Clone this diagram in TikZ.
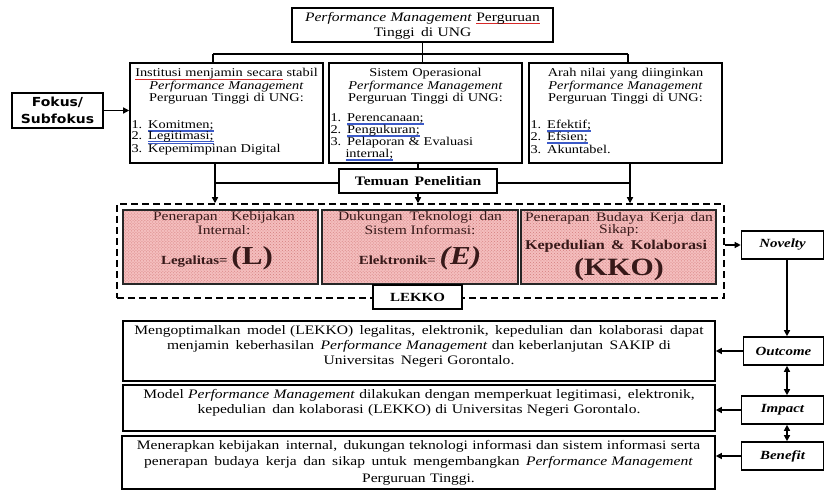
\documentclass[tikz,border=0pt]{standalone}
\usepackage{fontspec}
\setmainfont{Liberation Serif}[FakeStretch=1.2]
\newfontfamily\fokfont{DejaVu Sans}[FakeStretch=1.12]
\usetikzlibrary{arrows.meta,patterns}
\definecolor{pinkfill}{RGB}{244,190,190}
\definecolor{pinkdot}{RGB}{212,125,125}
\definecolor{ulblue}{RGB}{60,90,200}
\definecolor{ulred}{RGB}{215,40,40}
\definecolor{pinktext}{RGB}{55,25,25}
\newsavebox\ulbox
\newcommand\bluu[1]{\sbox\ulbox{#1}\leavevmode\rlap{\textcolor{ulblue}{\rule[-2.0pt]{\wd\ulbox}{0.45pt}}}\rlap{\textcolor{ulblue}{\rule[-3.2pt]{\wd\ulbox}{0.45pt}}}\usebox\ulbox}
\newcommand\redu[1]{\sbox\ulbox{#1}\leavevmode\rlap{\textcolor{ulred}{\rule[-2.4pt]{\wd\ulbox}{0.6pt}}}\usebox\ulbox}
\newcommand\fs[2]{\fontsize{#1}{#2}\selectfont}
\begin{document}
\begin{tikzpicture}[x=1bp,y=-1bp,
  box/.style={draw=black, line width=1.6bp, fill=white, inner sep=0pt},
  pinkbox/.style={draw=black!85, line width=1.6bp, inner sep=0pt,
     preaction={fill=pinkfill}, pattern=crosshatch dots, pattern color=pinkdot},
  txt/.style={inner sep=0pt, anchor=north},
  ptxt/.style={inner sep=0pt, anchor=base, text=pinktext},
  conn/.style={line width=1.3bp},
  arr/.style={conn, -{Triangle[length=6bp,width=6bp]}},
  darr/.style={conn, {Triangle[length=6bp,width=6bp]}-{Triangle[length=6bp,width=6bp]}},
  lab/.style={font=\fs{12.5}{14}\bfseries\itshape}
]
\useasboundingbox[fill=white] (0,0) rectangle (825,491);

% ---------- top
\node[box, minimum width=261bp, minimum height=34bp] (top) at (422.5,25) {};
\node[txt, text width=255bp, align=center, font=\fs{13}{15}] at (422.5,12)
  {\textit{Performance Management} \redu{Perguruan}\\Tinggi\, di UNG};

\node[box, minimum width=193bp, minimum height=100bp] (b1) at (226.5,113) {};
\node[box, minimum width=193bp, minimum height=100bp] (b2) at (425.5,113) {};
\node[box, minimum width=193bp, minimum height=100bp] (b3) at (625.5,113) {};

% box 1
\node[txt, text width=193bp, align=center, font=\fs{12}{12.5}] at (226.5,68.5)
  {\redu{Institusi menjamin secara} stabil\\ \textit{Performance Management}\\ Perguruan Tinggi di UNG:};
\node[txt, text width=190bp, align=left, font=\fs{12}{11.3}] at (226.5,120.5)
  {1. \bluu{Komitmen;}\\ 2. \bluu{Legitimasi;}\\ 3. Kepemimpinan Digital};
% box 2
\node[txt, text width=190bp, align=center, font=\fs{12}{12.5}] at (425.5,68.5)
  {Sistem Operasional\\ \textit{Performance Management}\\ Perguruan Tinggi di UNG:};
\node[txt, text width=190bp, align=left, font=\fs{12}{12}] at (425.5,113.5)
  {1. \bluu{Perencanaan;}\\ 2. \bluu{Pengukuran;}\\ 3. Pelaporan \& Evaluasi\\ \hspace*{15bp}\bluu{internal;}};
% box 3
\node[txt, text width=190bp, align=center, font=\fs{12}{12.5}] at (625.5,68.5)
  {Arah nilai yang diinginkan\\ \textit{Performance Management}\\ Perguruan Tinggi di UNG:};
\node[txt, text width=190bp, align=left, font=\fs{12}{11.5}] at (625.5,119.5)
  {1. \bluu{Efektif;}\\ 2. \bluu{Efsien;}\\ 3. Akuntabel.};

\node[box, minimum width=91bp, minimum height=35bp, align=center, font=\fokfont\fs{12.5}{16.5}\bfseries] (fok) at (57.5,110.5) {Fokus/\\Subfokus};

% ---------- connectors top
\coordinate (bl) at (213,54);
\coordinate (br) at (628,54);
\draw[conn] (top.south) -- (top.south |- b2.north);
\draw[conn] (bl) -- (br);
\draw[conn] (bl) -- (bl |- b1.north);
\draw[conn] (br) -- (br |- b3.north);
\draw[arr] (fok.east) -- (fok.east -| b1.west);

% ---------- LEKKO area
\node[draw=black, line width=1.5bp, dash pattern=on 7bp off 4bp, minimum width=607bp, minimum height=94bp, inner sep=0pt] (area) at (420.5,251) {};

\node[pinkbox, minimum width=195bp, minimum height=74bp] (pA) at (220.5,247) {};
\node[pinkbox, minimum width=196bp, minimum height=74bp] (pB) at (420,247) {};
\node[pinkbox, minimum width=195bp, minimum height=74bp] (pC) at (618.5,247) {};

\node[ptxt, font=\fs{13}{13}] at (224,221) {\makebox[142bp][s]{Penerapan Kebijakan}};
\node[ptxt, font=\fs{13}{13}] at (224,235) {Internal:};
\node[ptxt] at (217,265) {{\fs{12.5}{14}\bfseries Legalitas=\ }{\fs{26}{28}\bfseries(L)}};

\node[ptxt, font=\fs{13}{13}] at (420,221) {\makebox[164bp][s]{Dukungan Teknologi dan}};
\node[ptxt, font=\fs{13}{13}] at (420,235) {Sistem Informasi:};
\node[ptxt] at (420,265) {{\fs{12.5}{14}\bfseries Elektronik=\ }{\fs{26}{28}\bfseries\itshape(E)}};

\node[ptxt, font=\fs{13}{13}] at (619,222) {\makebox[188bp][s]{Penerapan Budaya Kerja dan}};
\node[ptxt, font=\fs{13}{13}] at (619,233.5) {Sikap:};
\node[ptxt, font=\fs{13.5}{14}\bfseries] at (616,250) {\makebox[182bp][s]{Kepedulian \& Kolaborasi}};
\node[ptxt, font=\fs{25}{27}\bfseries] at (619,276) {(KKO)};

\node[box, minimum width=89bp, minimum height=24bp, font=\fs{12.5}{14}\bfseries] (lekko) at (417.5,297) {LEKKO};

% ---------- Temuan
\node[box, minimum width=158bp, minimum height=24bp, font=\fs{13}{15}\bfseries] (tem) at (418,181) {Temuan\, Penelitian};
\coordinate (tl) at (215,183);
\coordinate (tr) at (630,183);
\draw[arr] (b1.south -| tl) -- (tl |- area.north);
\draw[arr] (b3.south -| tr) -- (tr |- area.north);
\draw[conn] (tl) -- (tem.west |- tl);
\draw[conn] (tem.east |- tr) -- (tr);
\draw[conn] (tem.north |- b2.south) -- (tem.north);
\draw[arr] (tem.south) -- (tem.south |- area.north);

% ---------- bottom text boxes
\node[box, minimum width=592bp, minimum height=60bp] (t1) at (419,351) {};
\node[box, minimum width=592bp, minimum height=46bp] (t2) at (419,408) {};
\node[box, minimum width=593bp, minimum height=53bp] (t3) at (418.5,462.5) {};

\node[txt, text width=586bp, align=center, font=\fs{13}{15}] at (419,325)
  {Mengoptimalkan\, model (LEKKO)\, legalitas,\, elektronik,\, kepedulian\, dan\, kolaborasi\, dapat\\
   menjamin\, keberhasilan\, \textit{Performance Management} dan keberlanjutan\, SAKIP di\\
   Universitas\, Negeri Gorontalo.};
\node[txt, text width=586bp, align=center, font=\fs{13}{15}] at (419,389)
  {Model \textit{Performance Management} dilakukan dengan memperkuat legitimasi,\, elektronik,\\
   kepedulian\, dan kolaborasi (LEKKO) di Universitas Negeri Gorontalo.};
\node[txt, text width=587bp, align=center, font=\fs{13}{16.5}] at (418.5,440)
  {Menerapkan kebijakan\, internal,\, dukungan teknologi informasi dan sistem informasi serta\\
   penerapan\, budaya\, kerja\, dan\, sikap\, untuk\, mengembangkan\, \textit{Performance Management}\\
   Perguruan Tinggi.};

% ---------- right column
\node[box, minimum width=82bp, minimum height=28bp, lab] (nov) at (782.5,245) {Novelty};
\node[box, minimum width=80bp, minimum height=28bp, lab] (out) at (783.5,351) {Outcome};
\node[box, minimum width=82bp, minimum height=28bp, lab] (imp) at (782.5,410) {Impact};
\node[box, minimum width=82bp, minimum height=28bp, lab] (ben) at (782.5,456) {Benefit};
\coordinate (vx) at (787,0);

\draw[arr] (nov.west -| area.east) -- (nov.west);
\draw[arr] (nov.south -| vx) -- (out.north -| vx);
\draw[darr] (out.south -| vx) -- (imp.north -| vx);
\draw[darr] (imp.south -| vx) -- (ben.north -| vx);
\draw[arr] (out.west) -- (out.west -| t1.east);
\draw[arr] (imp.west) -- (imp.west -| t2.east);
\draw[arr] (ben.west) -- (ben.west -| t3.east);
\end{tikzpicture}
\end{document}
